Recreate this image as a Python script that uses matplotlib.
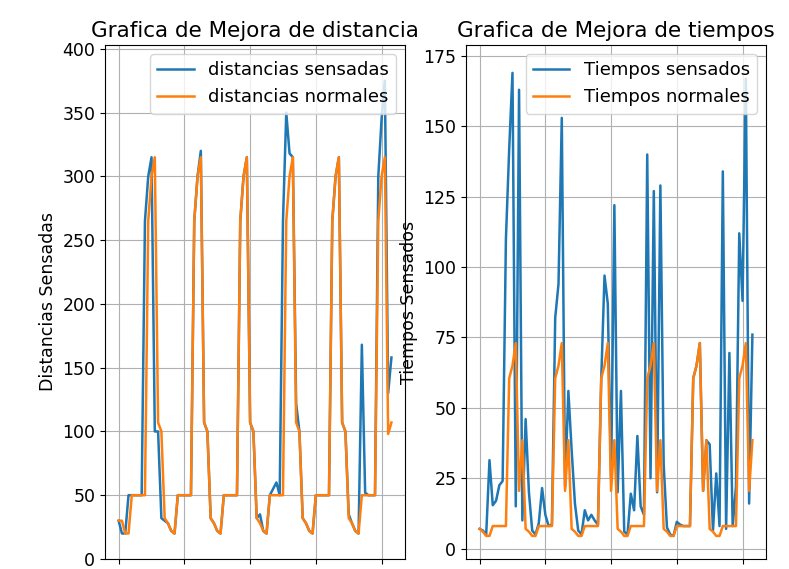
import numpy as np
import matplotlib
matplotlib.use('Agg')
import matplotlib.pyplot as plt

# distance readings (cm), 84 samples, 6 cycles of 14
dist_normal = [30, 30, 20, 20, 50, 50, 50, 50, 50, 265, 300, 315, 107, 100,
               32, 28, 22, 20, 50, 50, 50, 50, 50, 265, 300, 315, 107, 100,
               32, 28, 22, 20, 50, 50, 50, 50, 50, 265, 300, 315, 107, 100,
               32, 28, 22, 20, 50, 50, 50, 50, 50, 265, 300, 315, 107, 100,
               32, 28, 22, 20, 50, 50, 50, 50, 50, 265, 300, 315, 107, 100,
               32, 28, 22, 20, 50, 50, 50, 50, 50, 265, 300, 315, 98, 107]
dist_sensed = [30, 20, 20, 50, 50, 50, 50, 50, 265, 300, 315, 100, 100, 32,
               30, 28, 22, 20, 50, 50, 50, 50, 50, 265, 300, 320, 107, 100,
               32, 28, 22, 20, 50, 50, 50, 50, 50, 265, 300, 315, 107, 100,
               32, 35, 22, 20, 50, 55, 60, 50, 265, 350, 318, 315, 122, 100,
               32, 28, 22, 20, 50, 50, 50, 50, 50, 265, 300, 315, 107, 100,
               35, 28, 22, 20, 168, 52, 50, 50, 50, 300, 345, 375, 130, 158]

# time readings
time_normal = [7, 6, 4.5, 4.5, 8, 8, 8, 8, 8, 60.5, 65, 73, 20.5, 38.5,
               7, 6, 4.5, 4.5, 8, 8, 8, 8, 8, 60.5, 65, 73, 20.5, 38.5,
               7, 6, 4.5, 4.5, 8, 8, 8, 8, 8, 60.5, 65, 73, 20.5, 38.5,
               7, 6, 4.5, 4.5, 8, 8, 8, 8, 8, 60.5, 65, 73, 20.5, 38.5,
               7, 6, 4.5, 4.5, 8, 8, 8, 8, 8, 60.5, 65, 73, 20.5, 38.5,
               7, 6, 4.5, 4.5, 8, 8, 8, 8, 8, 60.5, 65, 73, 20.5, 38.5]
time_sensed = [7, 6.4, 5, 31.4, 15.4, 17, 22.5, 24, 110, 142, 169, 15, 163, 10,
               46, 20, 6.4, 5, 9, 21.5, 12, 8, 8.5, 82, 94, 153, 22, 56,
               35, 16, 6.4, 5, 13.6, 10, 12, 10, 8.5, 60, 97, 87, 25, 122,
               20, 56, 6, 5, 19.5, 13.6, 40, 15, 12, 140, 25, 127, 20, 129,
               30, 7.5, 5, 4.5, 9.5, 8.5, 8, 8, 8, 60.5, 65, 73, 20.5, 38.5,
               37, 6.4, 26.7, 8, 134, 7, 69.5, 8, 22, 112, 88, 167, 16, 76]

x = np.arange(len(dist_normal))

plt.rcParams['font.size'] = 12.5

fig, (ax1, ax2) = plt.subplots(1, 2, figsize=(7.89, 5.69), dpi=100)
fig.subplots_adjust(left=0.1331, right=0.9709, bottom=0.0176, top=0.9209, wspace=0.203)

ax1.plot(x, dist_sensed, lw=1.8, label='distancias sensadas')
ax1.plot(x, dist_normal, lw=1.8, label='distancias normales')
ax1.set_title('Grafica de Mejora de distancia', fontsize=15.5)
ax1.set_ylabel('Distancias Sensadas')
ax1.set_ylim(0, 403)
ax1.set_xticks([0, 20, 40, 60, 80])
ax1.tick_params(axis='x', labelbottom=False)
ax1.grid(True)
ax1.legend(loc='upper right', fontsize=13)

ax2.plot(x, time_sensed, lw=1.8, label='Tiempos sensados')
ax2.plot(x, time_normal, lw=1.8, label='Tiempos normales')
ax2.set_title('Grafica de Mejora de tiempos', fontsize=15.5)
ax2.set_ylabel('Tiempos Sensados')
ax2.set_ylim(-3.7, 178.9)
ax2.set_xticks([0, 20, 40, 60, 80])
ax2.tick_params(axis='x', labelbottom=False)
ax2.grid(True)
ax2.legend(loc='upper right', fontsize=13)

fig.savefig('out.png', dpi=100)
